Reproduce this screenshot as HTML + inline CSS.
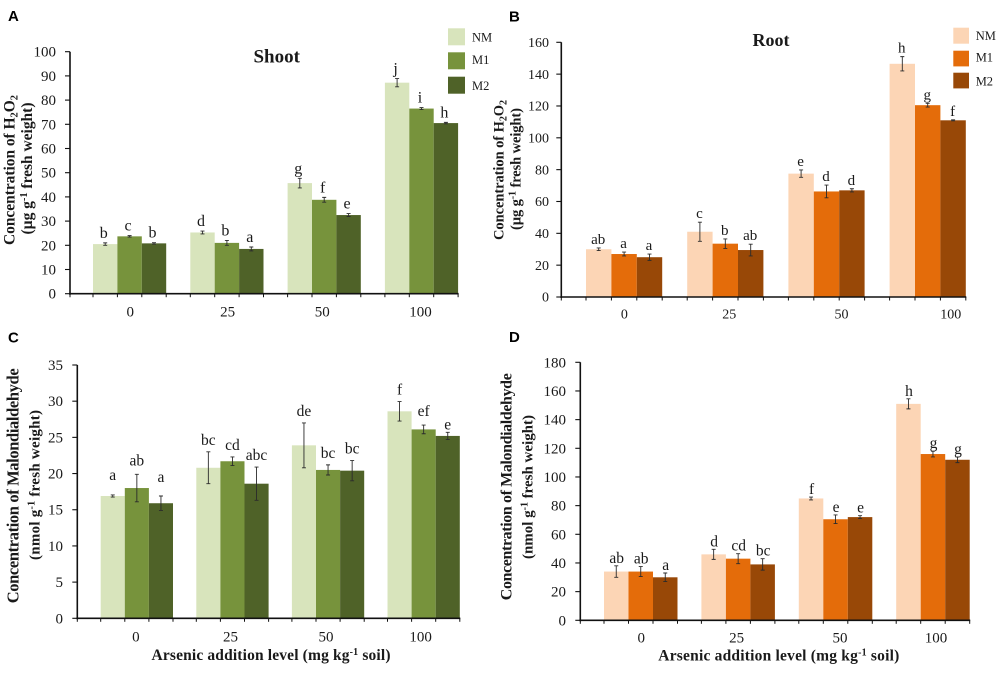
<!DOCTYPE html>
<html lang="en">
<head>
<meta charset="utf-8">
<title>H2O2 and malondialdehyde concentration charts</title>
<style>
html,body{margin:0;padding:0;background:#fff;width:1000px;height:673px;overflow:hidden}
svg{display:block;filter:blur(0.35px)}
text{font-family:"Liberation Serif",serif;fill:#1a1a1a}
.panel-tag{font-family:"Liberation Sans",sans-serif;font-weight:bold;font-size:15px;fill:#000}
.ytitle{font-weight:bold;font-size:15.5px}
.xtitle{font-weight:bold;font-size:15.5px}
.title{font-weight:bold}
.legend{font-size:12.5px}
</style>
</head>
<body>
<svg id="figure" width="1000" height="673" viewBox="0 0 1000 673" xmlns="http://www.w3.org/2000/svg">
  <rect width="1000" height="673" fill="#fff"/>

  <text class="panel-tag" x="8" y="21">A</text>
  <text class="panel-tag" x="509" y="21.5">B</text>
  <text class="panel-tag" x="8" y="342.5">C</text>
  <text class="panel-tag" x="509" y="342">D</text>

  <text class="title" x="276.7" y="62.3" font-size="19" text-anchor="middle">Shoot</text>
  <text class="title" x="771" y="46" font-size="18" text-anchor="middle">Root</text>

  <g>
    <rect x="448" y="28.3" width="17" height="17" fill="#d8e4bc"/>
    <rect x="448" y="52.3" width="17" height="17" fill="#77933c"/>
    <rect x="448" y="76.7" width="17" height="17" fill="#4f6228"/>
    <text class="legend" x="472" y="41.7">NM</text>
    <text class="legend" x="472" y="64">M1</text>
    <text class="legend" x="472" y="90">M2</text>
  </g>
  <g>
    <rect x="953.3" y="27.7" width="15.7" height="16" fill="#fcd5b5"/>
    <rect x="953.3" y="50.7" width="15.7" height="15.7" fill="#e46c0a"/>
    <rect x="953.3" y="72.7" width="15.7" height="15.7" fill="#984807"/>
    <text class="legend" x="975.7" y="40">NM</text>
    <text class="legend" x="975.7" y="61.7">M1</text>
    <text class="legend" x="975.7" y="85.7">M2</text>
  </g>

  <text class="ytitle" transform="translate(14.5 170) rotate(-90)" text-anchor="middle" textLength="150">Concentration of H<tspan font-size="10.5" dy="3">2</tspan><tspan dy="-3">O</tspan><tspan font-size="10.5" dy="3">2</tspan></text>
  <text class="ytitle" transform="translate(32 168.5) rotate(-90)" text-anchor="middle" textLength="132">(µg g<tspan font-size="10.5" dy="-5">-1</tspan><tspan dy="5"> fresh weight)</tspan></text>

  <text class="ytitle" style="font-size:14.5px" transform="translate(503.3 170) rotate(-90)" text-anchor="middle" textLength="140">Concentration of H<tspan font-size="10" dy="3">2</tspan><tspan dy="-3">O</tspan><tspan font-size="10" dy="3">2</tspan></text>
  <text class="ytitle" style="font-size:14.5px" transform="translate(520.7 169) rotate(-90)" text-anchor="middle" textLength="122">(µg g<tspan font-size="10" dy="-5">-1</tspan><tspan dy="5"> fresh weight)</tspan></text>

  <text class="ytitle" style="font-size:16.5px" transform="translate(18.3 485.8) rotate(-90)" text-anchor="middle" textLength="235">Concentration of Malondialdehyde</text>
  <text class="ytitle" style="font-size:15px" transform="translate(39.3 485) rotate(-90)" text-anchor="middle" textLength="150">(nmol g<tspan font-size="10" dy="-5">-1</tspan><tspan dy="5"> fresh weight)</tspan></text>

  <text class="ytitle" style="font-size:16px" transform="translate(511.7 486.7) rotate(-90)" text-anchor="middle" textLength="227">Concentration of Malondialdehyde</text>
  <text class="ytitle" style="font-size:15px" transform="translate(532.3 487) rotate(-90)" text-anchor="middle" textLength="144">(nmol g<tspan font-size="10" dy="-5">-1</tspan><tspan dy="5"> fresh weight)</tspan></text>

  <text class="xtitle" x="271" y="660" text-anchor="middle" textLength="239">Arsenic addition level (mg kg<tspan font-size="10" dy="-5">-1</tspan><tspan dy="5"> soil)</tspan></text>
  <text class="xtitle" x="778.8" y="660.7" text-anchor="middle" textLength="241">Arsenic addition level (mg kg<tspan font-size="10" dy="-5">-1</tspan><tspan dy="5"> soil)</tspan></text>
</svg>

<script>
// ---- shared data ----
const categories = ["0", "25", "50", "100"];
const seriesNames = ["NM", "M1", "M2"];

// ---- Panel A: shoot H2O2 ----
const aTicks = [0, 10, 20, 30, 40, 50, 60, 70, 80, 90, 100];
const aNM = [20.5, 25.3, 45.7, 87.2];
const aM1 = [23.7, 21.0, 38.8, 76.5];
const aM2 = [20.8, 18.5, 32.5, 70.5];
const aNMErr = [0.5, 0.6, 2.0, 1.7];
const aM1Err = [0.3, 1.0, 1.0, 0.4];
const aM2Err = [0.3, 0.8, 0.6, 0.3];
const aNMLetters = ["b", "d", "g", "j"];
const aM1Letters = ["c", "b", "f", "i"];
const aM2Letters = ["b", "a", "e", "h"];

// ---- Panel B: root H2O2 ----
const bTicks = [0, 20, 40, 60, 80, 100, 120, 140, 160];
const bNM = [30, 41, 77.5, 146.5];
const bM1 = [27, 33.5, 66.3, 120.5];
const bM2 = [25, 29.5, 67, 111];
const bNMErr = [0.8, 6, 2.3, 4.5];
const bM1Err = [1.2, 3, 4, 1.2];
const bM2Err = [2, 3.7, 1, 0.3];
const bNMLetters = ["ab", "c", "e", "h"];
const bM1Letters = ["a", "b", "d", "g"];
const bM2Letters = ["a", "ab", "d", "f"];

// ---- Panel C: shoot malondialdehyde ----
const cTicks = [0, 5, 10, 15, 20, 25, 30, 35];
const cNM = [16.9, 20.8, 23.9, 28.6];
const cM1 = [18, 21.7, 20.5, 26.1];
const cM2 = [15.9, 18.6, 20.4, 25.2];
const cNMErr = [0.15, 2.2, 3.1, 1.35];
const cM1Err = [1.9, 0.6, 0.7, 0.6];
const cM2Err = [1, 2.3, 1.4, 0.5];
const cNMLetters = ["a", "bc", "de", "f"];
const cM1Letters = ["ab", "cd", "bc", "ef"];
const cM2Letters = ["a", "abc", "bc", "e"];

// ---- Panel D: root malondialdehyde ----
const dTicks = [0, 20, 40, 60, 80, 100, 120, 140, 160, 180];
const dNM = [34, 46, 85, 151];
const dM1 = [34, 43, 70.5, 116];
const dM2 = [30, 39, 72, 112];
const dNMErr = [4, 3.5, 1, 3.5];
const dM1Err = [3.5, 3.5, 3, 2];
const dM2Err = [3, 4, 1, 2];
const dNMLetters = ["ab", "d", "f", "h"];
const dM1Letters = ["ab", "cd", "e", "g"];
const dM2Letters = ["a", "bc", "e", "g"];

const greens = ["#d8e4bc", "#77933c", "#4f6228"];
const oranges = ["#fcd5b5", "#e46c0a", "#984807"];

// ---- layout (pixels, independent of the data) ----
const panels = [
  { id: "a", ticks: aTicks, values: [aNM, aM1, aM2], errors: [aNMErr, aM1Err, aM2Err],
    letters: [aNMLetters, aM1Letters, aM2Letters], colors: greens,
    axisX: 70, yBase: 293.7, yTop: 51.7, barStart: 93, barW: 24.4, step: 97.3,
    tickFont: 15, letterFont: 16, letterGap: 5, letterDx: -1.5, xBaseline: 316.7,
    labelRight: 56, catDx: [0.7, 0.7, -2, -1], nudge: {} },
  { id: "b", ticks: bTicks, values: [bNM, bM1, bM2], errors: [bNMErr, bM1Err, bM2Err],
    letters: [bNMLetters, bM1Letters, bM2Letters], colors: oranges,
    axisX: 561.3, yBase: 297, yTop: 42.3, barStart: 586, barW: 25.4, step: 101.2,
    tickFont: 14, letterFont: 15, letterGap: 4, letterDx: -0.5, xBaseline: 318.3,
    labelRight: 549, catDx: [0.3, 4, 15, 23], nudge: {} },
  { id: "c", ticks: cTicks, values: [cNM, cM1, cM2], errors: [cNMErr, cM1Err, cM2Err],
    letters: [cNMLetters, cM1Letters, cM2Letters], colors: greens,
    axisX: 77.3, yBase: 618.3, yTop: 365, barStart: 100.7, barW: 24.1, step: 95.6,
    tickFont: 15, letterFont: 15.5, letterGap: 7, letterDx: 0, xBaseline: 641.7,
    labelRight: 63, catDx: [-1, -2, -2, -3], nudge: { "0-0": 8, "1-0": 2, "2-0": 7, "1-3": 2, "2-3": -4 } },
  { id: "d", ticks: dTicks, values: [dNM, dM1, dM2], errors: [dNMErr, dM1Err, dM2Err],
    letters: [dNMLetters, dM1Letters, dM2Letters], colors: oranges,
    axisX: 580.3, yBase: 620.3, yTop: 362.3, barStart: 604, barW: 24.5, step: 97.4,
    tickFont: 15, letterFont: 15.5, letterGap: 3, letterDx: 0.5, xBaseline: 642.7,
    labelRight: 566, catDx: [0.5, -1.5, 4.5, 3], nudge: {} }
];

const SVG_NS = "http://www.w3.org/2000/svg";
const root = document.getElementById("figure");

function shape(parent, tag, attrs, content) {
  const node = document.createElementNS(SVG_NS, tag);
  for (const key in attrs) node.setAttribute(key, attrs[key]);
  if (content !== undefined) node.textContent = content;
  parent.appendChild(node);
  return node;
}

panels.forEach(function (p) {
  const yMax = p.ticks[p.ticks.length - 1];
  const yScale = function (v) { return p.yBase - (v / yMax) * (p.yBase - p.yTop); };
  const xScale = function (group, series) { return p.barStart + group * p.step + series * p.barW; };
  const xEnd = xScale(categories.length - 1, seriesNames.length);

  const g = shape(root, "g", {});
  
  

  // bars, error bars, significance letters
  p.values.forEach(function (vals, s) {
    vals.forEach(function (v, c) {
      const top = yScale(v);
      const bar = shape(g, "rect", { x: xScale(c, s), y: top, width: p.barW, height: p.yBase - top, fill: p.colors[s] });
      
      
    });
  });
  p.values.forEach(function (vals, s) {
    vals.forEach(function (v, c) {
      const cx = xScale(c, s) + p.barW / 2;
      const e = p.errors[s][c];
      const hi = yScale(v + e), lo = yScale(v - e);
      const err = shape(g, "path", {
        d: "M" + (cx - 2) + " " + hi + "H" + (cx + 2) + "M" + cx + " " + hi + "V" + lo + "M" + (cx - 2) + " " + lo + "H" + (cx + 2),
        stroke: "#2b2b2b", "stroke-width": 0.9, fill: "none"
      });
      
      

      const extra = p.nudge[s + "-" + c] || 0;
      const letter = shape(g, "text", {
        x: cx + p.letterDx, y: hi - p.letterGap - extra, "text-anchor": "middle", "font-size": p.letterFont
      }, p.letters[s][c]);
      
      
    });
  });

  // axes
  const yAxis = shape(g, "line", { x1: p.axisX, x2: p.axisX, y1: p.yTop, y2: p.yBase + 1, stroke: "#111", "stroke-width": 1.6 });
  
  
  const xAxis = shape(g, "line", { x1: p.axisX - 1, x2: xEnd + 0.5, y1: p.yBase, y2: p.yBase, stroke: "#111", "stroke-width": 1.6 });
  
  

  // y ticks
  p.ticks.forEach(function (t) {
    const y = yScale(t);
    const tick = shape(g, "line", { x1: p.axisX - 5, x2: p.axisX, y1: y, y2: y, stroke: "#111", "stroke-width": 1.1 });
    
    
    const label = shape(g, "text", { x: p.labelRight, y: y + p.tickFont * 0.33, "text-anchor": "end", "font-size": p.tickFont }, String(t));
    
    
  });

  // x ticks at bar edges and category labels
  const tickXs = [p.axisX];
  categories.forEach(function (cat, c) {
    seriesNames.concat([""]).forEach(function (unused, s) { tickXs.push(xScale(c, s)); });
    const label = shape(g, "text", {
      x: xScale(c, 1.5) + p.catDx[c], y: p.xBaseline, "text-anchor": "middle", "font-size": p.tickFont
    }, cat);
    
    
  });
  tickXs.forEach(function (x) {
    const tick = shape(g, "line", { x1: x, x2: x, y1: p.yBase, y2: p.yBase + 3.5, stroke: "#111", "stroke-width": 1 });
    
    
  });
});
</script>
</body>
</html>
